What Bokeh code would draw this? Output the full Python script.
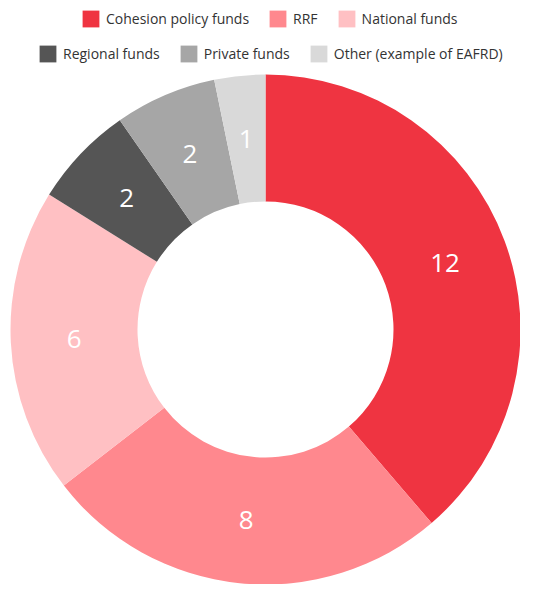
import numpy as np
from bokeh.plotting import figure
from bokeh.models import ColumnDataSource, Legend, LegendItem, Range1d
from bokeh.core.properties import value
from bokeh.embed import file_html
from bokeh.resources import INLINE

# ---- data ----
categories = ["Cohesion policy funds", "RRF", "National funds",
              "Regional funds", "Private funds", "Other (example of EAFRD)"]
counts = [12, 8, 6, 2, 2, 1]
colors = ["#EF3441", "#FF888E", "#FFC0C3", "#555555", "#A6A6A6", "#D9D9D9"]

W, H = 520, 584
CX, CY = 265, H - 329
R_OUT, R_IN = 255, 128

total = float(sum(counts))
cum = np.cumsum([0] + counts)
start = np.pi / 2 - 2 * np.pi * cum[:-1] / total
end = np.pi / 2 - 2 * np.pi * cum[1:] / total
mid = (start + end) / 2
r_lab = (R_OUT + R_IN) / 2

src = ColumnDataSource(dict(
    cat=categories, val=counts, color=colors,
    start=start, end=end,
    lx=CX + r_lab * np.cos(mid), ly=CY + r_lab * np.sin(mid),
    txt=[str(v) for v in counts],
))

p = figure(width=W, height=H, output_backend="svg", toolbar_location=None,
           x_range=Range1d(0, W), y_range=Range1d(0, H),
           x_axis_type=None, y_axis_type=None,
           min_border=0, min_border_left=0, min_border_right=0,
           min_border_top=0, min_border_bottom=0)
p.outline_line_color = None
p.grid.visible = False
p.background_fill_color = "white"

r = p.annular_wedge(x=CX, y=CY, inner_radius=R_IN, outer_radius=R_OUT,
                    start_angle="start", end_angle="end", direction="clock",
                    fill_color="color", line_color=None, source=src)

p.text(x="lx", y="ly", text="txt", source=src, text_color="white",
       text_font=value("Open Sans"), text_font_size="26px",
       text_align="center", text_baseline="middle")

def make_legend(idx, loc):
    items = [LegendItem(label=categories[i], renderers=[r], index=i) for i in idx]
    lg = Legend(items=items, orientation="horizontal", location=loc,
                glyph_width=21, glyph_height=21, label_height=21,
                label_standoff=5, spacing=18, padding=0, margin=0,
                border_line_color=None, background_fill_alpha=0,
                label_text_font="Open Sans", label_text_font_size="14px",
                label_text_color="#333333")
    return lg

p.add_layout(make_legend([0, 1, 2], (80, H - 29)))
p.add_layout(make_legend([3, 4, 5], (37, H - 64)))

open("out.html", "w").write(file_html(p, INLINE))
